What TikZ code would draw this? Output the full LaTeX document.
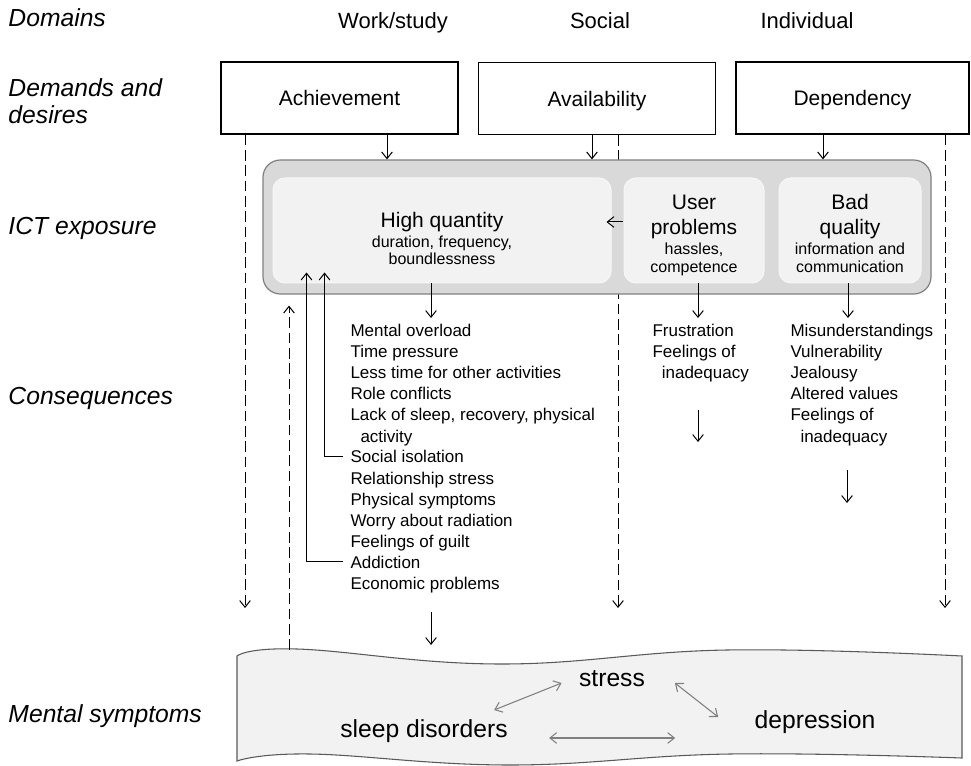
\documentclass[tikz,border=0pt]{standalone}
\usepackage{fontspec}
\setmainfont{Liberation Sans}
\usetikzlibrary{arrows.meta}

\definecolor{ictfill}{HTML}{D9D9D9}
\definecolor{ictline}{HTML}{808080}
\definecolor{innerfill}{HTML}{F2F2F2}
\definecolor{tapeline}{HTML}{595959}
\definecolor{symline}{HTML}{808080}

\newcommand\lanef{\fontsize{18.5}{20.25}\selectfont\itshape}
\newcommand\headf{\fontsize{16.5}{19}\selectfont}
\newcommand\boxf{\fontsize{15.75}{18.75}\selectfont}
\newcommand\subf{\fontsize{12}{14}\selectfont}
\newcommand\listf{\fontsize{12.75}{15.75}\selectfont}
\newcommand\sympf{\fontsize{18.5}{22}\selectfont}

\begin{document}
\begin{tikzpicture}[x=0.75pt,y=-0.75pt,>={Straight Barb[length=5pt,width=8pt]},line width=0.75pt,
  lane/.style={anchor=base west,font=\lanef,align=left,inner sep=0},
  head/.style={anchor=base,font=\headf,inner sep=0},
  demand/.style={draw,line width=0.9pt,minimum width=177.75pt,minimum height=54pt,font=\boxf,text height=11.5pt,text depth=0pt},
  ictbox/.style={draw=ictline,fill=ictfill,line width=0.9pt,rounded corners=13pt,minimum width=501pt,minimum height=100.5pt},
  inbox/.style={fill=innerfill,draw=innerfill!60!white,rounded corners=9pt,minimum height=78.75pt},
  intext/.style={font=\boxf,align=center,inner sep=0},
  item/.style={anchor=base west,font=\listf,inner sep=0},
  dashline/.style={dash pattern=on 8pt off 3.5pt},
  tape/.style={draw=tapeline,fill=innerfill,line width=0.8pt},
  symp/.style={font=\sympf,inner sep=0},
  sym/.style={<->,draw=symline,line width=0.8pt}]

\useasboundingbox (0,0) rectangle (971,766);

% rows
\node[lane] (dom)  at (8,27)  {Domains};
\node[lane,anchor=west] (dem) at (8,101) {Demands and\\desires};
\node[lane] (expo) at (8,235) {ICT exposure};
\node[lane] (cons) at (8,405) {Consequences};
\node[lane] (ment) at (8,722) {Mental symptoms};

% domains
\node[head] (work) at (393,29) {Work/study};
\node[head] (soc)  at (600,29) {Social};
\node[head] (indi) at (807,29) {Individual};

% demands and desires
\node[demand] (achv)  at (339.5,98) {Achievement};
\node[demand] (avail) at (597,98.5) {Availability};
\node[demand,minimum width=174.75pt] (dep) at (852.5,98) {Dependency};

\coordinate (wEnd) at (245,608);
\coordinate (sEnd) at (618,608);
\coordinate (iEnd) at (945,608);
\draw[dashline,->] ([shift={(-94.5,0)}]achv.south) -- (wEnd);
\draw[dashline,->] ([shift={(21,0)}]avail.south) -- (sEnd);
\draw[dashline,->] ([shift={(92.5,0)}]dep.south) -- (iEnd);

% ICT exposure
\node[ictbox] (ict) at (597,227) {};
\node[inbox,minimum width=253.5pt] (hq)   at (442,230.5) {};
\node[inbox,minimum width=105pt]   (user) at (694,230.5) {};
\node[inbox,minimum width=106.5pt] (bad)  at (850,230.5) {};

\node[intext] (hqt)   at (442,238) {High quantity\\[-3.75pt]{\subf duration, frequency,}\\[-6pt]{\subf boundlessness}};
\node[intext] (usert) at (694,235) {User\\problems\\[-3.75pt]{\subf hassles,}\\[-5.25pt]{\subf competence}};
\node[intext] (badt)  at (850,233) {Bad\\quality\\[-3.75pt]{\subf information and}\\[-5.25pt]{\subf communication}};

\path[->] ([shift={(47.5,0)}]achv.south) edge ([shift={(-210,0)}]ict.north)
          ([shift={(-5,0)}]avail.south)  edge ([shift={(-5,0)}]ict.north)
          ([shift={(-29.5,0)}]dep.south) edge ([shift={(226,0)}]ict.north)
          ([shift={(-1,-8.5)}]user.west) edge ([shift={(-5,-8.5)}]hq.east);

% consequences
\foreach \t [count=\i] in {Mental overload,Time pressure,Less time for other activities,Role conflicts,{Lack of sleep, recovery, physical},\hspace*{7.5pt}activity,Social isolation,Relationship stress,Physical symptoms,Worry about radiation,Feelings of guilt,Addiction,Economic problems}
  \node[item] (c\i) at (350,{337+21*(\i-1)}) {\t};
\foreach \t [count=\i] in {Frustration,Feelings of,\hspace*{7pt}inadequacy}
  \node[item] (f\i) at (652,{337+21*(\i-1)}) {\t};
\foreach \t [count=\i] in {Misunderstandings,Vulnerability,Jealousy,Altered values,Feelings of,\hspace*{7.5pt}inadequacy}
  \node[item] (m\i) at (790,{337+21*(\i-1)}) {\t};

\path[->] ([shift={(-11,0)}]hq.south) edge ([shift={(81,-19)}]c1.base west)
          ([shift={(4,0)}]user.south)  edge ([shift={(46,-19)}]f1.base west)
          ([shift={(-2,0)}]bad.south)  edge ([shift={(58,-19)}]m1.base west)
          ([shift={(81,23)}]c13.base west) edge ([shift={(81,56)}]c13.base west)
          ([shift={(46,31)}]f3.base west)  edge ([shift={(46,63)}]f3.base west)
          ([shift={(57,28)}]m6.base west)  edge ([shift={(57,61)}]m6.base west);

\draw[->] ([shift={(-7,0)}]c7.west)  -| ([shift={(52,-11)}]hq.south west);
\draw[->] ([shift={(-7,0)}]c12.west) -| ([shift={(34,-11)}]hq.south west);

% mental symptoms
\draw[tape] plot[smooth,tension=0.7] coordinates {(237,656) (297,649) (500,664) (727,650) (962,656)}
  -- plot[smooth,tension=0.7] coordinates {(962,758) (730,754) (510,765) (310,754) (237,761)} -- cycle;
\coordinate (tapeUp) at (289,650);
\draw[dashline,->] (tapeUp) -- ([shift={(-308,11)}]ict.south);

\node[symp] (stress) at (612,679) {stress};
\node[symp] (sleep)  at (424,731) {sleep disorders};
\node[symp] (depr)   at (815,722) {depression};

\draw[sym] ([shift={(-14,-21)}]sleep.east) -- ([shift={(-17,4)}]stress.west);
\draw[sym] ([shift={(29.5,4)}]stress.east) -- ([shift={(-36,-5)}]depr.west);
\draw[sym] ([shift={(41,7)}]sleep.east) -- ([shift={(-79,16)}]depr.west);

\end{tikzpicture}
\end{document}
